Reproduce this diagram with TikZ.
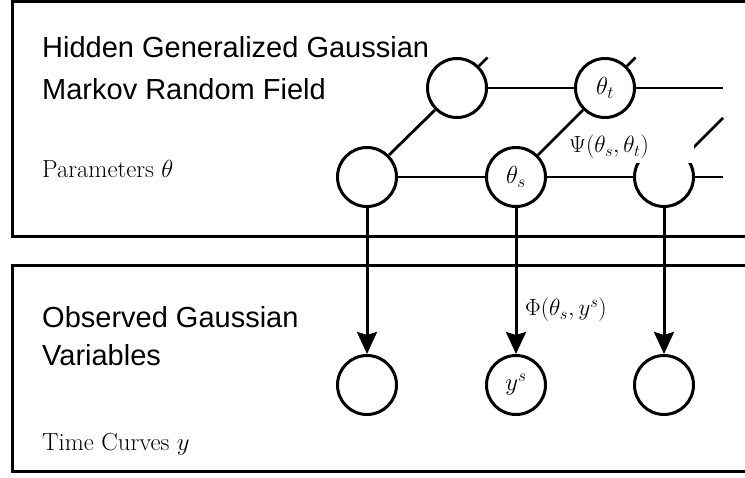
\RequirePackage{fix-cm}
\documentclass[tikz,border=0pt]{standalone}
\usepackage{fontspec}
\newfontfamily\titlefont{Liberation Sans}
\usetikzlibrary{arrows.meta}
\begin{document}
\begin{tikzpicture}[x=1pt,y=-1pt,
  var/.style={circle, draw, line width=3pt, minimum size=59pt, inner sep=0pt, font=\fontsize{24.7}{29}\selectfont},
  panel/.style={draw, line width=3pt},
  title/.style={anchor=base west, inner sep=0pt, font=\titlefont\fontsize{29}{34}\selectfont},
  caption/.style={anchor=base west, inner sep=0pt, font=\fontsize{24.7}{29}\selectfont},
  edge/.style={line width=2.8pt},
  arr/.style={line width=3pt, -{Stealth[length=22pt,width=20pt,inset=3pt]}},
  lab/.style={inner sep=0pt, font=\fontsize{23.5}{28}\selectfont}
]
\useasboundingbox (0,0) rectangle (745,478);
\clip (0,0) rectangle (745,478);
% panels
\draw[panel] (12,1.5) rectangle (780,236.5);
\draw[panel] (12,266) rectangle (780,472);
% free ends
\coordinate (r1) at (723,88);
\coordinate (r2) at (723,177);
\coordinate (d3) at (723,118);
\coordinate (db1) at (487.5,57.5);
\coordinate (dt) at (635.5,57.5);
% observed nodes
\node[var] (y1) at (367,385) {};
\node[var] (ys) at (516,385) {$y^s$};
\node[var] (y3) at (664,385) {};
% hidden right node first (partly hidden by label)
\node[var] (s) at (516,177) {$\theta_s$};
\node[var] (a3) at (664,177) {};
\draw[edge] (s) -- (a3);
\draw[edge] (a3) -- (r2);
\draw[edge] (a3.north east) -- (d3);
\draw[arr] (a3) -- (y3);
% label with white background
\fill[white] (566,131) rectangle (694,163);
\node[lab] (psi) at (609,147) {$\Psi(\theta_s,\theta_t)$};
% remaining hidden nodes
\node[var] (a1) at (367,177) {};
\node[var] (b1) at (457,88) {};
\node[var] (t) at (605,88) {$\theta_t$};
\draw[edge] (a1) -- (s);
\draw[edge] (a1.north east) -- (b1.south west);
\draw[edge] (b1) -- (t);
\draw[edge] (t) -- (r1);
\draw[edge] (s.north east) -- (t.south west);
\draw[edge] (b1.north east) -- (db1);
\draw[edge] (t.north east) -- (dt);
\draw[arr] (a1) -- (y1);
\draw[arr] (s) -- (ys);
\node[lab, anchor=west] (phi) at (525,310) {$\Phi(\theta_s,y^s)$};
% texts
\node[title] (h1) at (42,58) {Hidden Generalized Gaussian};
\node[title] (h2) at (42,100) {Markov Random Field};
\node[caption] (p) at (42,178) {Parameters $\theta$};
\node[title] (o1) at (42,328) {Observed Gaussian};
\node[title] (o2) at (42,366) {Variables};
\node[caption] (tc) at (42,450) {Time Curves $y$};
\end{tikzpicture}
\end{document}
